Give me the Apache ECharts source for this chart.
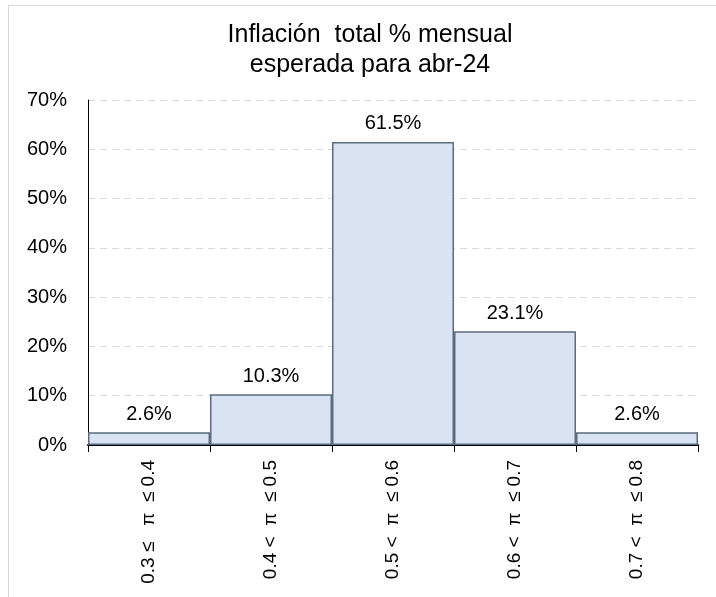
<!DOCTYPE html>
<html>
<head>
<meta charset="utf-8">
<script src="https://cdn.jsdelivr.net/npm/echarts@6/dist/echarts.min.js"></script>
<style>
  html, body { margin: 0; padding: 0; background: #fff; }
  #frame { position: absolute; left: 8px; top: 5px; width: 720px; height: 600px; border: 1px solid #d9d9d9; box-sizing: border-box; }
  #chart { position: absolute; left: 0; top: 0; width: 716px; height: 597px; }
</style>
</head>
<body>
<div id="frame"></div>
<div id="chart"></div>
<script>
// rangos de inflación esperada
var categorias = ['0.3 ≤   π  ≤ 0.4', '0.4 <  π  ≤ 0.5', '0.5 <  π  ≤ 0.6', '0.6 <  π  ≤ 0.7', '0.7 <  π  ≤ 0.8'];
var porcentajes = [2.6, 10.3, 61.5, 23.1, 2.6];
var tituloLineas = ['Inflación  total % mensual', 'esperada para abr-24'];

var myChart = echarts.init(document.getElementById('chart'));
myChart.setOption({
    animation: false,
    title: {
        text: tituloLineas.join('\n'),
        left: 365,
        textAlign: 'center',
        top: 15,
        textStyle: {
            fontFamily: 'Liberation Sans',
            fontWeight: 'normal',
            fontSize: 25,
            lineHeight: 30,
            color: '#000'
        }
    },
    grid: {
        left: 88,
        right: 18,
        top: 100,
        bottom: 152
    },
    xAxis: {
        type: 'category',
        data: categorias,
        axisLine: { lineStyle: { color: '#000', width: 2 } },
        axisTick: { show: true, length: 7, lineStyle: { color: '#000', width: 1 } },
        axisLabel: {
            rotate: 90,
            margin: 15,
            fontFamily: 'Liberation Sans',
            fontSize: 19,
            color: '#000'
        }
    },
    yAxis: {
        type: 'value',
        min: 0,
        max: 70,
        interval: 10,
        axisLine: { show: true, lineStyle: { color: '#000', width: 1 } },
        axisTick: { show: false },
        axisLabel: {
            formatter: '{value}%',
            margin: 21,
            fontFamily: 'Liberation Sans',
            fontSize: 20,
            color: '#000'
        },
        splitLine: {
            show: true,
            lineStyle: { color: '#d9d9d9', type: [7, 5], width: 1 }
        }
    },
    series: [{
        type: 'bar',
        data: porcentajes,
        barCategoryGap: 0,
        itemStyle: {
            color: '#dae3f3',
            borderColor: '#5b6b80',
            borderWidth: 1.5
        },
        label: {
            show: true,
            position: 'top',
            distance: 8,
            formatter: function (p) { return p.value.toFixed(1) + '%'; },
            fontFamily: 'Liberation Sans',
            fontSize: 20,
            color: '#000'
        }
    }]
});
</script>
</body>
</html>
